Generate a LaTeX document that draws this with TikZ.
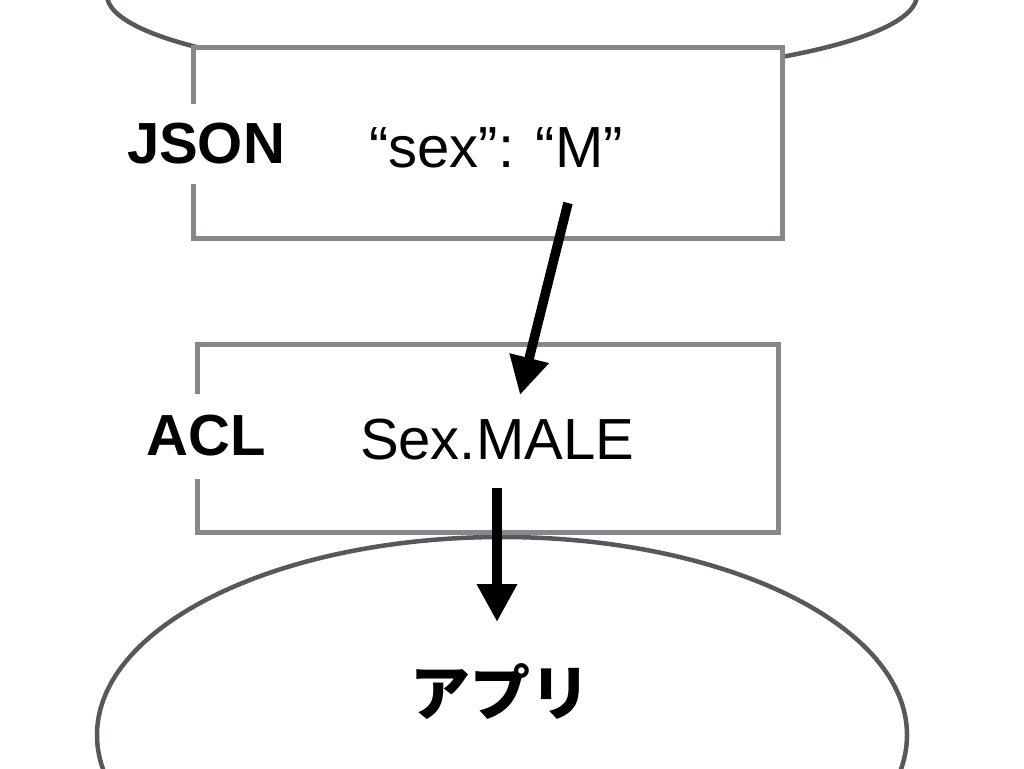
\documentclass[tikz,border=0pt]{standalone}
\usepackage{fontspec}
\setmainfont{Liberation Sans}
\newfontfamily\jpfont{Noto Sans CJK JP}
\usetikzlibrary{arrows.meta}
\definecolor{boxgray}{HTML}{86888C}
\definecolor{ellgray}{HTML}{55585C}
\tikzset{
  box/.style={draw=boxgray, line width=5pt, fill=white},
  ell/.style={draw=ellgray, line width=4.5pt, fill=white},
  lbl/.style={fill=white, inner sep=0pt, font=\fontsize{58}{70}\selectfont\bfseries},
  val/.style={inner sep=0pt, anchor=base, font=\fontsize{58}{70}\selectfont},
  arr/.style={line width=9.5pt, -{Triangle[length=38pt,width=38pt]}},
}
\begin{document}
\begin{tikzpicture}[x=1pt,y=-1pt]
\useasboundingbox (0,0) rectangle (1024,768);
% top ellipse (partly outside)
\draw[ell] (512,-5) ellipse [x radius=405, y radius=83];
% bottom ellipse
\draw[ell] (502,735) ellipse [x radius=405, y radius=198];
\node[font=\jpfont\fontsize{60}{70}\selectfont\bfseries] (app) at (500,692) {アプリ};
% boxes
\draw[box] (193,48) rectangle (782,238);
\draw[box] (197,344) rectangle (778,532);
\node[lbl, minimum height=80pt] (json) at (206,144) {JSON};
\node[lbl, minimum height=85pt] (acl) at (206,436) {ACL};
\node[val] (jv) at (496,167) {“sex”: “M”};
\node[val] (av) at (497,459) {Sex.MALE};
% arrows
\coordinate (a1s) at (568,203);
\coordinate (a1e) at (520,395);
\coordinate (a2s) at (497,488);
\coordinate (a2e) at (497,622);
\draw[arr] (a1s) -- (a1e);
\draw[arr] (a2s) -- (a2e);
\end{tikzpicture}
\end{document}
